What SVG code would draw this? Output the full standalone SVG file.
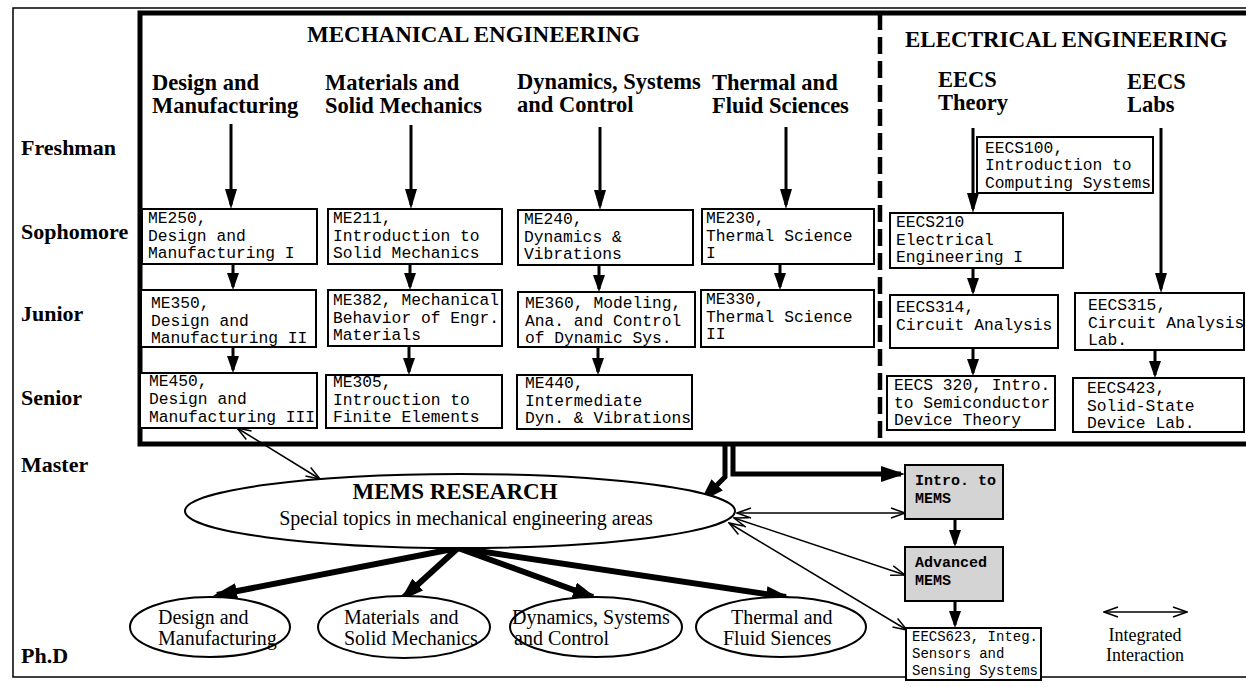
<svg xmlns="http://www.w3.org/2000/svg" width="1246" height="687" viewBox="0 0 1246 687">
<style>
.frame{fill:none;stroke:#000;stroke-width:1.5}
.tbox{fill:none;stroke:#000;stroke-width:5}
.dash{stroke:#000;stroke-width:4.5;stroke-dasharray:17 7}
.box{fill:#fff;stroke:#000;stroke-width:2}
.gbox{fill:#d4d4d4;stroke:#000;stroke-width:2}
.ell{fill:#fff;stroke:#000;stroke-width:2}
.mono{font-family:"Liberation Mono","Courier New",monospace;font-size:16.3px;fill:#000}
.monob{font-family:"Liberation Mono","Courier New",monospace;font-size:15px;font-weight:bold;fill:#000}
.mono14{font-family:"Liberation Mono","Courier New",monospace;font-size:14px;fill:#000}
.hdr{font-family:"Liberation Serif","Times New Roman",serif;font-weight:bold;font-size:23px;fill:#000}
.sub{font-family:"Liberation Serif","Times New Roman",serif;font-weight:bold;font-size:22.5px;fill:#000}
.row{font-family:"Liberation Serif","Times New Roman",serif;font-weight:bold;font-size:22px;fill:#000}
.ser{font-family:"Liberation Serif","Times New Roman",serif;font-size:20px;fill:#000}
.leg{font-family:"Liberation Serif","Times New Roman",serif;font-size:18px;fill:#000}
.arr{stroke:#000;stroke-width:3;fill:none;marker-end:url(#ah)}
.sarr{stroke:#000;stroke-width:3;fill:none;marker-end:url(#ahS)}
.thk{stroke:#000;stroke-width:6;fill:none;marker-end:url(#ahT)}
.thk5{stroke:#000;stroke-width:5;fill:none;marker-end:url(#ahT)}
.int{stroke:#000;stroke-width:1.5;fill:none;marker-start:url(#op);marker-end:url(#op)}
</style>
<defs>
<marker id="ah" markerUnits="userSpaceOnUse" markerWidth="20" markerHeight="12" refX="16" refY="6" orient="auto"><path d="M0,0 L20,6 L0,12 z" fill="#000"/></marker>
<marker id="ahS" markerUnits="userSpaceOnUse" markerWidth="17" markerHeight="12" refX="14" refY="6" orient="auto"><path d="M0,0 L17,6 L0,12 z" fill="#000"/></marker>
<marker id="ahT" markerUnits="userSpaceOnUse" markerWidth="24" markerHeight="16" refX="20" refY="8" orient="auto"><path d="M0,0 L24,8 L0,16 z" fill="#000"/></marker>
<marker id="op" markerUnits="userSpaceOnUse" markerWidth="16" markerHeight="12" refX="15" refY="6" orient="auto-start-reverse"><path d="M1,1 L15,6 L1,11" fill="none" stroke="#000" stroke-width="1.5"/></marker>
</defs>
<rect width="1246" height="687" fill="#fff"/>

<g id="frame">
<rect class="frame" x="13" y="8" width="1250" height="669"/>
<rect class="tbox" x="140" y="13" width="1120" height="431"/>
<line class="dash" x1="880" y1="13" x2="880" y2="444"/>
</g>

<g id="titles">
<text class="hdr" x="307" y="42">MECHANICAL ENGINEERING</text>
<text class="hdr" x="905" y="47">ELECTRICAL ENGINEERING</text>
<text class="sub" x="152" y="90">Design and</text>
<text class="sub" x="152" y="113">Manufacturing</text>
<text class="sub" x="325" y="90">Materials and</text>
<text class="sub" x="325" y="113">Solid Mechanics</text>
<text class="sub" x="517" y="89">Dynamics, Systems</text>
<text class="sub" x="517" y="112">and Control</text>
<text class="sub" x="712" y="90">Thermal and</text>
<text class="sub" x="712" y="113">Fluid Sciences</text>
<text class="sub" x="938" y="87">EECS</text>
<text class="sub" x="938" y="110">Theory</text>
<text class="sub" x="1127" y="89">EECS</text>
<text class="sub" x="1127" y="112">Labs</text>
</g>

<g id="rows">
<text class="row" x="21" y="155">Freshman</text>
<text class="row" x="21" y="239">Sophomore</text>
<text class="row" x="21" y="321">Junior</text>
<text class="row" x="21" y="405">Senior</text>
<text class="row" x="21" y="472">Master</text>
<text class="row" x="21" y="663">Ph.D</text>
</g>

<g id="connectors">
<line class="arr" x1="231" y1="124" x2="231" y2="205"/>
<line class="arr" x1="411" y1="125" x2="411" y2="205"/>
<line class="arr" x1="600" y1="127" x2="600" y2="206"/>
<line class="arr" x1="786" y1="127" x2="786" y2="205"/>
<line class="arr" x1="973" y1="128" x2="973" y2="209"/>
<line class="arr" x1="1161" y1="128" x2="1161" y2="289"/>
<line class="sarr" x1="233" y1="264" x2="233" y2="287"/>
<line class="sarr" x1="233" y1="347" x2="233" y2="370"/>
<line class="sarr" x1="410" y1="265" x2="410" y2="287"/>
<line class="sarr" x1="409" y1="346" x2="409" y2="372"/>
<line class="sarr" x1="599" y1="265" x2="599" y2="289"/>
<line class="sarr" x1="598" y1="347" x2="598" y2="372"/>
<line class="sarr" x1="780" y1="264" x2="780" y2="287"/>
<line class="sarr" x1="973" y1="268" x2="973" y2="292"/>
<line class="sarr" x1="973" y1="348" x2="973" y2="373"/>
<line class="sarr" x1="1155" y1="350" x2="1155" y2="375"/>
<line class="sarr" x1="955" y1="519" x2="955" y2="544"/>
<line class="sarr" x1="955" y1="601" x2="955" y2="625"/>
<polyline class="thk5" points="725,446 725,477 703,499"/>
<polyline class="thk5" points="733,446 733,474 901,474"/>
<line class="thk" x1="458" y1="548" x2="217" y2="595"/>
<line class="thk" x1="458" y1="548" x2="403" y2="598"/>
<line class="thk" x1="458" y1="548" x2="593" y2="597"/>
<line class="thk" x1="458" y1="548" x2="786" y2="597"/>
<line class="int" x1="237" y1="428" x2="320" y2="479"/>
<line class="int" x1="737" y1="513" x2="905" y2="513"/>
<line class="int" x1="734" y1="518" x2="905" y2="575"/>
<line class="int" x1="729" y1="523" x2="907" y2="630"/>
<line class="int" x1="1104" y1="612" x2="1187" y2="612"/>
</g>

<g id="ME250"><rect class="box" x="142" y="209" width="175" height="55"/><text class="mono" x="148" y="223">ME250,</text><text class="mono" x="148" y="240.5">Design and</text><text class="mono" x="148" y="258">Manufacturing I</text></g>
<g id="ME211"><rect class="box" x="328" y="209" width="174" height="55"/><text class="mono" x="333" y="223">ME211,</text><text class="mono" x="333" y="240.5">Introduction to</text><text class="mono" x="333" y="258">Solid Mechanics</text></g>
<g id="ME240"><rect class="box" x="518" y="210" width="175" height="55"/><text class="mono" x="524" y="224">ME240,</text><text class="mono" x="524" y="241.5">Dynamics &amp;</text><text class="mono" x="524" y="259">Vibrations</text></g>
<g id="ME230"><rect class="box" x="702" y="209" width="172" height="55"/><text class="mono" x="706" y="223">ME230,</text><text class="mono" x="706" y="240.5">Thermal Science</text><text class="mono" x="706" y="258">I</text></g>
<g id="ME350"><rect class="box" x="141" y="290" width="175" height="57"/><text class="mono" x="151" y="308">ME350,</text><text class="mono" x="151" y="325.5">Design and</text><text class="mono" x="151" y="343">Manufacturing II</text></g>
<g id="ME382"><rect class="box" x="328" y="290" width="174" height="56"/><text class="mono" x="333" y="305">ME382, Mechanical</text><text class="mono" x="333" y="322.5">Behavior of Engr.</text><text class="mono" x="333" y="340">Materials</text></g>
<g id="ME360"><rect class="box" x="518" y="292" width="177" height="55"/><text class="mono" x="525" y="308">ME360, Modeling,</text><text class="mono" x="525" y="325.5">Ana. and Control</text><text class="mono" x="525" y="343">of Dynamic Sys.</text></g>
<g id="ME330"><rect class="box" x="701" y="290" width="173" height="57"/><text class="mono" x="706" y="304">ME330,</text><text class="mono" x="706" y="321.5">Thermal Science</text><text class="mono" x="706" y="339">II</text></g>
<g id="ME450"><rect class="box" x="140" y="373" width="177" height="55"/><text class="mono" x="149" y="386">ME450,</text><text class="mono" x="149" y="404">Design and</text><text class="mono" x="149" y="421.5">Manufacturing III</text></g>
<g id="ME305"><rect class="box" x="326" y="375" width="176" height="53"/><text class="mono" x="333" y="387">ME305,</text><text class="mono" x="333" y="404.5">Introuction to</text><text class="mono" x="333" y="422">Finite Elements</text></g>
<g id="ME440"><rect class="box" x="517" y="375" width="175" height="54"/><text class="mono" x="525" y="388">ME440,</text><text class="mono" x="525" y="405.5">Intermediate</text><text class="mono" x="525" y="423">Dyn. &amp; Vibrations</text></g>
<g id="EECS100"><rect class="box" x="977" y="137" width="176" height="56"/><text class="mono" x="985" y="152.5">EECS100,</text><text class="mono" x="985" y="170">Introduction to</text><text class="mono" x="985" y="187.5">Computing Systems</text></g>
<g id="EECS210"><rect class="box" x="890" y="213" width="173" height="55"/><text class="mono" x="896" y="227">EECS210</text><text class="mono" x="896" y="244.5">Electrical</text><text class="mono" x="896" y="262">Engineering I</text></g>
<g id="EECS314"><rect class="box" x="890" y="295" width="168" height="53"/><text class="mono" x="896" y="312">EECS314,</text><text class="mono" x="896" y="330">Circuit Analysis</text></g>
<g id="EECS315"><rect class="box" x="1075" y="293" width="169" height="57"/><text class="mono" x="1088" y="310">EECS315,</text><text class="mono" x="1088" y="327.5">Circuit Analysis</text><text class="mono" x="1088" y="345">Lab.</text></g>
<g id="EECS320"><rect class="box" x="887" y="376" width="168" height="54"/><text class="mono" x="894" y="390">EECS 320, Intro.</text><text class="mono" x="894" y="407.5">to Semiconductor</text><text class="mono" x="894" y="425">Device Theory</text></g>
<g id="EECS423"><rect class="box" x="1073" y="378" width="171" height="54"/><text class="mono" x="1087" y="393">EECS423,</text><text class="mono" x="1087" y="410.5">Solid-State</text><text class="mono" x="1087" y="428">Device Lab.</text></g>

<g id="MEMS_RESEARCH"><ellipse class="ell" cx="460" cy="511" rx="275" ry="37"/><text class="hdr" x="455" y="499" text-anchor="middle">MEMS RESEARCH</text><text class="ser" x="466" y="525" text-anchor="middle">Special topics in mechanical engineering areas</text></g>
<g id="IntroMEMS"><rect class="gbox" x="905" y="465" width="98" height="54"/><text class="monob" x="915" y="485">Intro. to</text><text class="monob" x="915" y="502.5">MEMS</text></g>
<g id="AdvancedMEMS"><rect class="gbox" x="905" y="547" width="98" height="54"/><text class="monob" x="915" y="567">Advanced</text><text class="monob" x="915" y="584.5">MEMS</text></g>
<g id="EECS623"><rect class="box" x="906" y="628" width="135" height="52"/><text class="mono14" x="912" y="641">EECS623, Integ.</text><text class="mono14" x="912" y="658">Sensors and</text><text class="mono14" x="912" y="675">Sensing Systems</text></g>

<g id="PhD_Design"><ellipse class="ell" cx="210" cy="627" rx="80" ry="30"/><text class="ser" x="158" y="624">Design and</text><text class="ser" x="158" y="645">Manufacturing</text></g>
<g id="PhD_Materials"><ellipse class="ell" cx="404" cy="627" rx="86" ry="31"/><text class="ser" x="344" y="624" xml:space="preserve">Materials  and</text><text class="ser" x="344" y="645">Solid Mechanics</text></g>
<g id="PhD_Dynamics"><ellipse class="ell" cx="596" cy="627" rx="86" ry="30"/><text class="ser" x="512" y="624">Dynamics, Systems</text><text class="ser" x="514" y="645">and Control</text></g>
<g id="PhD_Thermal"><ellipse class="ell" cx="781" cy="627" rx="85" ry="30"/><text class="ser" x="731" y="624">Thermal and</text><text class="ser" x="723" y="645">Fluid Siences</text></g>

<g id="legend"><text class="leg" x="1145" y="641" text-anchor="middle">Integrated</text><text class="leg" x="1145" y="661" text-anchor="middle">Interaction</text></g>
</svg>
